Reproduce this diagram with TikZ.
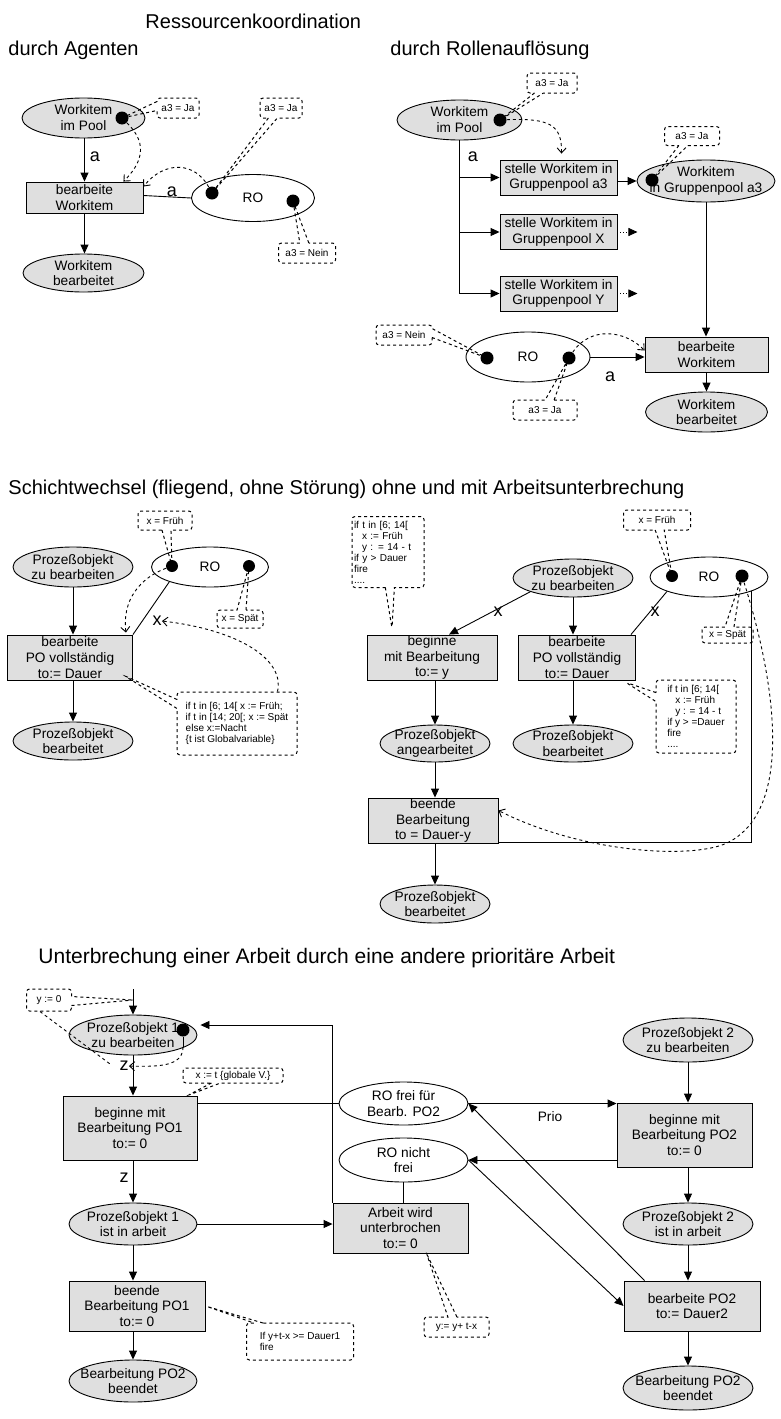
\documentclass[tikz,border=0pt]{standalone}
\usepackage{fontspec}
\setmainfont{Liberation Sans}
\usetikzlibrary{shapes.geometric,shapes.callouts,arrows.meta,calc}
\newcommand\nodefont{\fontsize{13.7}{15.8}\selectfont}
\newcommand\notefont{\fontsize{10}{11}\selectfont}
\newcommand\lblfont{\fontsize{18}{18}\selectfont}
\newcommand\titlefont{\fontsize{20}{22}\selectfont}
\tikzset{
  sz/.style 2 args={minimum width=#1pt,minimum height=#2pt},
  place/.style={ellipse,draw,fill=gray!25,inner sep=-30pt,align=center,font=\nodefont},
  res/.style={place,fill=white},
  trans/.style={draw,fill=gray!25,inner xsep=1pt,inner ysep=0pt,align=center,font=\nodefont},
  tok/.style={circle,fill=black,inner sep=0pt,minimum size=13pt},
  note/.style={rectangle callout,draw,dashed,line width=1pt,rounded corners=3pt,inner sep=2pt,
    align=left,font=\notefont,callout pointer width=9pt},
  lbl/.style={font=\lblfont,inner sep=0pt},
  title/.style={font=\titlefont,inner sep=0pt,anchor=west},
  arc/.style={-{Triangle[length=9pt,width=8pt]}},
  dep/.style={dashed,-{Straight Barb[length=5pt,width=9pt]}}
}
\begin{document}
\begin{tikzpicture}[x=1pt,y=-1pt,line width=0.9pt]
\fill[white] (0,0) rectangle (780,1419);
\useasboundingbox (0,0) rectangle (780,1419);

% Ressourcenkoordination
\node[title] (t1) at (145,21) {Ressourcenkoordination};
\node[title] (t2) at (8,50) {durch Agenten};
\node[title] (t3) at (390,50) {durch Rollenauflösung};

% durch Agenten
\node[place,sz={123}{40}] (wip) at (83.5,118) {Workitem\\im Pool};
\node[tok] (wt) at (122,118) {};
\node[trans,sz={117}{31}] (bw) at (84.5,197.5) {bearbeite\\Workitem};
\node[place,sz={121}{38}] (wbt) at (83.5,273) {Workitem\\bearbeitet};
\node[res,sz={123}{47}] (ro) at (253,198) {RO};
\node[tok] (r1) at (212,193) {};
\node[tok] (r2) at (293,201) {};
\node[note,sz={42}{20},callout absolute pointer={(wt)}] (n1) at (178,108) {a3 = Ja};
\node[note,sz={42}{20},callout absolute pointer={(r1)}] (n2) at (281,108) {a3 = Ja};
\node[note,sz={57}{20},callout absolute pointer={(r2)}] (n3) at (307,253) {a3 = Nein};
\node[lbl] (la1) at (95,157) {a};
\node[lbl] (la2) at (172,192) {a};
\draw[arc] (wip.south -| bw.north) -- (bw.north);
\draw[arc] (bw) -- (bw.south |- wbt.north);
\draw ($(bw.east)+(0,-2)$) -- (ro.west);
\draw[dep] (wt.south east) .. controls (150,145) and (140,165) .. ($(bw.north east)+(-20,0)$);
\draw[dep] (r1) .. controls (195,162) and (165,160) .. ($(bw.east)+(0,-11)$);

% durch Rollenaufloesung
\node[place,sz={125}{40}] (wip2) at (459.5,120) {Workitem\\im Pool};
\node[tok] (wt2) at (500,120) {};
\node[note,sz={50}{20},callout absolute pointer={(wt2)}] (n4) at (552,83) {a3 = Ja};
\node[trans,sz={117}{35}] (sa) at (558.5,177.5) {stelle Workitem in\\Gruppenpool a3};
\node[trans,sz={117}{35}] (sx) at (558.5,232) {stelle Workitem in\\Gruppenpool X};
\node[trans,sz={117}{35}] (sy) at (558.5,293.5) {stelle Workitem in\\Gruppenpool Y};
\node[place,sz={138}{42}] (gp) at (706,181) {Workitem\\in Gruppenpool a3};
\node[tok] (gt) at (652,180) {};
\node[note,sz={55}{19},callout absolute pointer={(gt)}] (n5) at (692,136) {a3 = Ja};
\node[trans,sz={123}{35}] (bw2) at (706.5,354.5) {bearbeite\\Workitem};
\node[place,sz={122}{40}] (wbt2) at (706.5,412) {Workitem\\bearbeitet};
\node[res,sz={124}{50}] (ro2) at (528,357) {RO};
\node[tok] (rt1) at (487,358) {};
\node[tok] (rt2) at (569,358) {};
\node[note,sz={56}{20},callout absolute pointer={(rt1)}] (n6) at (404,335) {a3 = Nein};
\node[note,sz={64}{20},callout absolute pointer={(rt2)}] (n7) at (545,410) {a3 = Ja};
\node[lbl] (la3) at (473,157) {a};
\node[lbl] (la4) at (610,377) {a};
\coordinate (xe) at ($(sx.east)+(20,0)$);
\coordinate (ye) at ($(sy.east)+(20,0)$);
\draw[arc] (wip2.south) |- (sa.west);
\draw[arc] (wip2.south) |- (sx.west);
\draw[arc] (wip2.south) |- (sy.west);
\draw[arc,dotted] (sx.east) -- (xe);
\draw[arc,dotted] (sy.east) -- (ye);
\draw[arc] (sa.east |- gp.west) -- (gp.west);
\draw[arc] (gp.south) -- (gp.south |- bw2.north);
\draw[arc] (bw2) -- (wbt2);
\draw[arc] (ro2.east) -- (ro2.east -| bw2.west);
\draw[dep] (wt2) .. controls (550,118) and (562,125) .. ($(sa.north)+(3,-6)$);
\draw[dep] (rt2) .. controls (590,326) and (625,330) .. ($(bw2.west)+(0,-4)$);

% Schichtwechsel
\node[title] (t4) at (8,489) {Schichtwechsel (fliegend, ohne Störung) ohne und mit Arbeitsunterbrechung};

\node[place,sz={120}{40}] (pz) at (73,567) {Prozeßobjekt\\zu bearbeiten};
\node[res,sz={117}{40}] (ro3) at (210,567) {RO};
\node[tok,minimum size=12pt] (u1) at (172,566) {};
\node[tok,minimum size=12pt] (u2) at (249,566) {};
\node[note,sz={54}{19},callout absolute pointer={(u1)}] (n8) at (165,520.5) {x = Früh};
\node[note,sz={46}{18},callout absolute pointer={(u2)}] (n9) at (240,619) {x = Spät};
\node[trans,sz={125}{45}] (bv) at (70,657.5) {bearbeite\\PO vollständig\\to:= Dauer};
\node[place,sz={120}{38}] (pb) at (73,741) {Prozeßobjekt\\bearbeitet};
\node[note,sz={120}{63},callout absolute pointer={($(bv.south east)+(-9,-5)$)}] (n10) at (237,723.5)
  {if t in [6; 14[ x := Früh;\\if t in [14; 20[; x := Spät\\else x:=Nacht\\\{t ist Globalvariable\}};
\node[lbl] (lx1) at (157,621) {x};
\draw[arc] (pz.south) -- (pz.south |- bv.north);
\draw[arc] (pz.south |- bv.south) -- (pb.north);
\draw (ro3.200) -- (bv.north east);
\draw[dep] (u1) .. controls (140,578) and (122,600) .. ($(bv.north east)+(-7,-2)$);
\draw[dep] ($(n10.north east)+(-20,0)$) .. controls (285,660) and (240,630) .. (lx1.east);

\node[place,sz={120}{38}] (pz2) at (573,578) {Prozeßobjekt\\zu bearbeiten};
\node[res,sz={118}{40}] (ro4) at (709,577) {RO};
\node[tok,minimum size=12pt] (v1) at (672,576) {};
\node[tok] (v2) at (742,576) {};
\node[note,sz={67}{20},callout absolute pointer={(v1)}] (n12) at (657,520) {x = Früh};
\node[note,sz={51}{16},callout absolute pointer={(v2)}] (n13) at (727.5,635) {x = Spät};
\node[trans,sz={130}{45}] (bb) at (432,657.5) {beginne\\mit Bearbeitung\\to:= y};
\node[trans,sz={117}{45}] (bv2) at (577,657.5) {bearbeite\\PO vollständig\\to:= Dauer};
\node[note,text width=68pt,minimum height=71pt,callout absolute pointer={($(bb.north)+(-40,-6)$)}] (n11) at (388,552)
  {if t in [6; 14[\\\hspace*{0.8em}x := Früh\\\hspace*{0.8em}y : = 14 - t\\if y > Dauer\\fire\\....};
\node[place,sz={110}{37}] (pa) at (435,743.5) {Prozeßobjekt\\angearbeitet};
\node[place,sz={120}{37}] (pb2) at (573,743.5) {Prozeßobjekt\\bearbeitet};
\node[note,sz={80}{73},callout absolute pointer={($(bv2.south east)+(-10,2)$)}] (n14) at (696,716.5)
  {if t in [6; 14[\\\hspace*{0.8em}x := Früh\\\hspace*{0.8em}y : = 14 - t\\if y > =Dauer\\fire\\....};
\node[trans,sz={130}{45}] (be) at (433,820.5) {beende\\Bearbeitung\\to = Dauer-y};
\node[place,sz={110}{38}] (pb3) at (435,904) {Prozeßobjekt\\bearbeitet};
\node[lbl] (lx2) at (498,612) {x};
\node[lbl] (lx3) at (655,612) {x};
\draw[arc] (pz2.south west) -- ($(bb.north)+(17,0)$);
\draw[arc] (pz2.south) -- (pz2.south |- bv2.north);
\draw[arc] (pz2.south |- bv2.south) -- (pb2.north);
\draw (ro4.south west) -- ($(bv2.north east)+(-5,0)$);
\draw (ro4.south east) |- ($(be.south east)+(0,-1)$);
\draw[arc] (pa.north |- bb.south) -- (pa.north);
\draw[arc] (pa.south) -- (pa.south |- be.north);
\draw[arc] (pa.south |- be.south) -- (pb3.north);
\draw[dep] (v2) .. controls (775,680) and (795,810) .. (727,843)
  .. controls (690,860) and (580,852) .. ($(be.east)+(0,-10)$);

% Unterbrechung
\node[title,font=\fontsize{21}{23}\selectfont] (t5) at (38,958) {Unterbrechung einer Arbeit durch eine andere prioritäre Arbeit};

\coordinate (in1) at (133,989);
\coordinate (in1p) at (133,1000);
\node[place,sz={128}{40}] (p1) at (133,1035) {Prozeßobjekt 1\\zu bearbeiten};
\node[tok] (p1t) at (183,1030) {};
\coordinate (p1s) at (183,1047);
\node[lbl] (z1) at (124,1066) {z};
\node[note,sz={45}{22},callout absolute pointer={(in1p)}] (n15) at (49,1000) {y := 0};
\node[trans,sz={134}{64}] (b1) at (130,1128) {beginne mit\\Bearbeitung PO1\\to:= 0};
\node[note,sz={100}{15},callout absolute pointer={($(b1.north east)+(-10,0)$)}] (n16) at (233,1075.5) {x := t \{globale V.\}};
\node[lbl] (z2) at (124,1178) {z};
\node[place,sz={128}{42}] (p1i) at (133,1224) {Prozeßobjekt 1\\ist in arbeit};
\node[trans,sz={136}{50}] (e1) at (137,1306) {beende\\Bearbeitung PO1\\to:= 0};
\node[note,sz={107}{37},callout absolute pointer={(e1.east)}] (n17) at (300,1341.5) {If y+t-x >= Dauer1\\fire};
\node[place,sz={128}{42}] (end1) at (133,1381) {Bearbeitung PO2\\beendet};

\node[res,sz={129}{43}] (rof) at (403.5,1103.5) {RO frei für\\Bearb. PO2};
\node[res,sz={129}{44}] (ronf) at (403.5,1160) {RO nicht\\frei};
\node[trans,sz={135}{50}] (ab) at (400.5,1228) {Arbeit wird\\unterbrochen\\to:= 0};
\node[note,sz={65}{20},callout absolute pointer={($(ab.south)+(26,0)$)}] (n18) at (456.5,1327) {y:= y+ t-x};

\node[place,sz={130}{44}] (p2) at (688,1040) {Prozeßobjekt 2\\zu bearbeiten};
\node[trans,sz={135}{64}] (b2) at (684.5,1135) {beginne mit\\Bearbeitung PO2\\to:= 0};
\node[place,sz={130}{42}] (p2i) at (688,1224) {Prozeßobjekt 2\\ist in arbeit};
\node[trans,sz={136}{50}] (bp2) at (692,1306) {bearbeite PO2\\to:= Dauer2};
\node[place,sz={130}{44}] (end2) at (688,1388) {Bearbeitung PO2\\beendet};
\node[font=\nodefont,inner sep=0pt] (prio) at (550,1117) {Prio};

\draw[arc] (in1) -- (p1.north);
\draw (p1t) -- (p1s);
\draw[dep] (p1s) .. controls (183,1066) and (160,1067) .. (z1.east);
\draw[dashed] ($(n15.south)+(-9,0)$) -- ($(z1.west)+(-9,-2)$);
\draw[arc] (p1.south) -- (p1.south |- b1.north);
\draw[arc] (p1.south |- b1.south) -- (p1i.north);
\draw[arc] (p1i.south) -- (p1i.south |- e1.north);
\draw[arc] (p1i.south |- e1.south) -- (end1.north);
\draw[arc] (p1i.east) -- (p1i.east -| ab.west);
\draw[arc] (ab.north west) |- ($(p1.east)+(3,-10)$);
\draw (b1.east |- rof.west) -- (rof.west);
\draw[arc] (rof.east) -- (rof.east -| b2.west);
\draw[arc] (ronf.east -| b2.west) -- (ronf.east);
\draw (ronf.south) -- (ronf.south |- ab.north);
\draw[arc] ($(bp2.north west)+(21,0)$) -- (rof.east);
\draw[arc] (ronf.east) -- (bp2.west);
\draw[arc] (p2.south) -- (p2.south |- b2.north);
\draw[arc] (p2.south |- b2.south) -- (p2i.north);
\draw[arc] (p2i.south) -- (p2i.south |- bp2.north);
\draw[arc] (p2i.south |- bp2.south) -- (end2.north);
\end{tikzpicture}
\end{document}
